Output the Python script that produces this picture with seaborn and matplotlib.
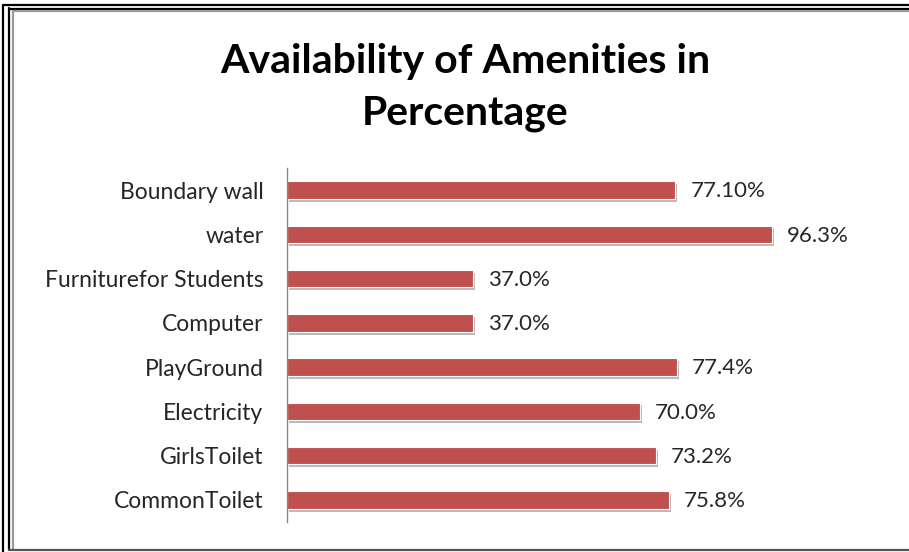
import matplotlib
matplotlib.use("Agg")
import matplotlib.pyplot as plt
import matplotlib.patheffects as pe
from matplotlib.lines import Line2D
import pandas as pd
import seaborn as sns

amenities = ["Boundary wall", "water", "Furniturefor Students", "Computer",
             "PlayGround", "Electricity", "GirlsToilet", "CommonToilet"]
percent = [77.10, 96.3, 37.0, 37.0, 77.4, 70.0, 73.2, 75.8]
value_labels = ["77.10%", "96.3%", "37.0%", "37.0%", "77.4%", "70.0%", "73.2%", "75.8%"]

df = pd.DataFrame({"Amenity": amenities, "Percent": percent})

sns.set_style("white")
plt.rcParams["font.family"] = ["Lato", "DejaVu Sans"]

fig = plt.figure(figsize=(9.09, 5.52), dpi=100)
ax = fig.add_axes([287 / 909, 1 - 522 / 552, 0.665, (522 - 168) / 552])

sns.barplot(data=df, y="Amenity", x="Percent", orient="h", color="#C0504D",
            width=0.4, edgecolor="white", linewidth=0.8, saturation=1, ax=ax)

for bar in ax.patches:
    bar.set_path_effects([pe.SimplePatchShadow(offset=(1.5, -2), shadow_rgbFace="#808080", alpha=0.55),
                          pe.Normal()])

for i, (val, lab) in enumerate(zip(percent, value_labels)):
    ax.text(val + 3, i + 0.03, lab, va="center", ha="left", fontsize=16, color="#262626")

ax.set_xlim(0, 120)
ax.set_ylim(7.5, -0.5)
ax.set_xlabel("")
ax.set_ylabel("")
ax.set_xticks([])
ax.tick_params(axis="y", length=0, pad=17, labelsize=16.5, labelcolor="#262626")
for s in ["top", "right", "bottom"]:
    ax.spines[s].set_visible(False)
ax.spines["left"].set_color("#888888")
ax.spines["left"].set_linewidth(1)

fig.text(0.512, 1 - 61 / 552, "Availability of Amenities in", ha="center", va="center",
         fontsize=29.5, fontweight="bold", color="black")
fig.text(0.512, 1 - 113 / 552, "Percentage", ha="center", va="center",
         fontsize=29.5, fontweight="bold", color="black")

# outer frame
W, H = 909, 552
def fline(x0, y0, x1, y1, color, lw):
    fig.add_artist(Line2D([x0 / W, x1 / W], [1 - y0 / H, 1 - y1 / H],
                          transform=fig.transFigure, color=color, lw=lw))

fline(3, 5, 3, 552, "black", 1.6)
fline(9, 8, 9, 550, "black", 1.6)
fline(13, 11, 13, 549, "#999999", 1.6)
fline(3, 5, 909, 5, "black", 1.6)
fline(9, 8.5, 909, 8.5, "black", 1.6)
fline(13, 11, 909, 11, "#999999", 1.6)
fline(9, 550, 909, 550, "#555555", 1.6)

fig.savefig("out.png", dpi=100)
